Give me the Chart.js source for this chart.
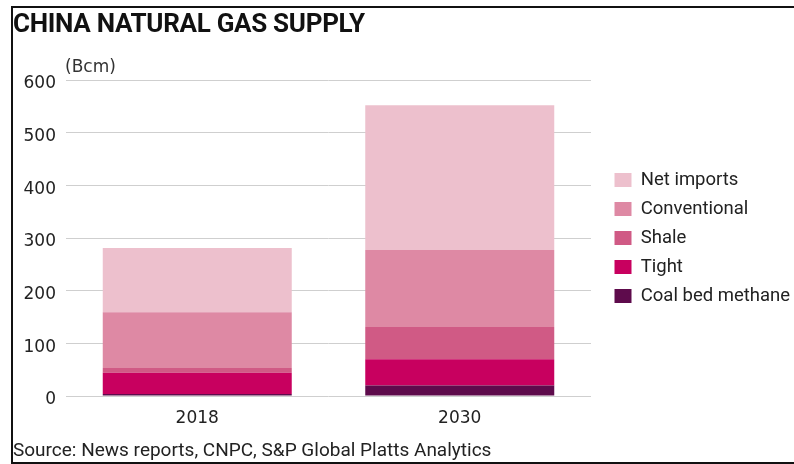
<!DOCTYPE html>
<html><head><meta charset="utf-8">
<script src="https://cdn.jsdelivr.net/npm/chart.js@4/dist/chart.umd.min.js"></script>
<style>
html,body{margin:0;padding:0;background:#fff;}
#wrap{position:relative;width:794px;height:464px;overflow:hidden;background:#fff;font-family:'Roboto',sans-serif;}
#frame{position:absolute;left:11px;top:6px;width:820px;height:454px;border-left:2px solid #111;border-top:2px solid #111;border-bottom:2px solid #111;}
#title{position:absolute;left:13px;top:8px;font-size:26px;font-weight:bold;color:#111;letter-spacing:-0.3px;white-space:nowrap}
#unit{position:absolute;left:65px;top:56px;font-family:'DejaVu Sans',sans-serif;font-size:17px;color:#333}
#source{position:absolute;left:13px;top:438px;font-size:19px;color:#222;white-space:nowrap}
#cv{position:absolute;left:0;top:0}
</style></head>
<body><div id="wrap"><div id="frame"></div>
<canvas id="cv" width="794" height="464"></canvas>
<div id="title">CHINA NATURAL GAS SUPPLY</div>
<div id="unit">(Bcm)</div>
<div id="source">Source: News reports, CNPC, S&amp;P Global Platts Analytics</div>
</div>
<script>
const categories = ['2018', '2030'];
const seriesNames = ['Coal bed methane', 'Tight', 'Shale', 'Conventional', 'Net imports'];
const coalBedMethane = [4, 20];
const tight = [40, 50];
const shale = [9, 61];
const conventional = [106, 146];
const netImports = [122, 275];
const yTicks = [0, 100, 200, 300, 400, 500, 600];
const colors = ['#5e0b4c', '#c8005f', '#d05a85', '#de89a4', '#edc0cd'];

const seriesValues = [coalBedMethane, tight, shale, conventional, netImports];
const NUMFONT = "'DejaVu Sans',sans-serif";
const TXTFONT = "'Roboto',sans-serif";

const legendWidthPlugin = {
  id: 'legendWidth',
  beforeLayout(chart) {
    const lg = chart.legend;
    if (lg && !lg.__patched) {
      const orig = lg.fit.bind(lg);
      lg.fit = function () { orig(); this.width = 190; };
      lg.__patched = true;
    }
  }
};

function draw() {
  new Chart(document.getElementById('cv'), {
    type: 'bar',
    data: {
      labels: categories,
      datasets: seriesNames.map((n, i) => ({
        label: n,
        data: seriesValues[i],
        backgroundColor: colors[i],
        borderWidth: 0,
        categoryPercentage: 1,
        barPercentage: 0.72,
        yAxisID: 'y'
      }))
    },
    plugins: [legendWidthPlugin],
    options: {
      responsive: false,
      animation: false,
      devicePixelRatio: 1,
      layout: { padding: { left: 0, top: 80, right: 0, bottom: 30 } },
      plugins: {
        title: { display: false },
        tooltip: { enabled: false },
        legend: {
          position: 'right',
          fullSize: false,
          reverse: true,
          labels: {
            boxWidth: 17, boxHeight: 14, padding: 10.5,
            color: '#222',
            font: { family: TXTFONT, size: 18.5 }
          }
        }
      },
      scales: {
        x: {
          stacked: true,
          grid: { display: false },
          border: { display: false },
          ticks: { color: '#222', padding: 4, font: { family: NUMFONT, size: 17 } },
          afterFit: s => { s.height = 38; }
        },
        y: {
          stacked: true,
          min: 0, max: 600,
          afterBuildTicks: s => { s.ticks = yTicks.map(v => ({ value: v })); },
          grid: { color: '#cfcfcf', lineWidth: 1, drawTicks: false },
          border: { display: false },
          ticks: { color: '#222', padding: 10, labelOffset: 4, font: { family: NUMFONT, size: 17 } },
          afterFit: s => { s.width = 66; }
        },
        gap: {
          position: 'right',
          display: true,
          grid: { display: false },
          border: { display: false },
          ticks: { display: false },
          afterFit: s => { s.width = 13; }
        }
      }
    }
  });
}
if (document.fonts && document.fonts.load) {
  Promise.all([
    document.fonts.load("18px 'Roboto'"),
    document.fonts.load("17px 'DejaVu Sans'")
  ]).then(draw, draw);
} else { draw(); }
</script>
</body></html>
